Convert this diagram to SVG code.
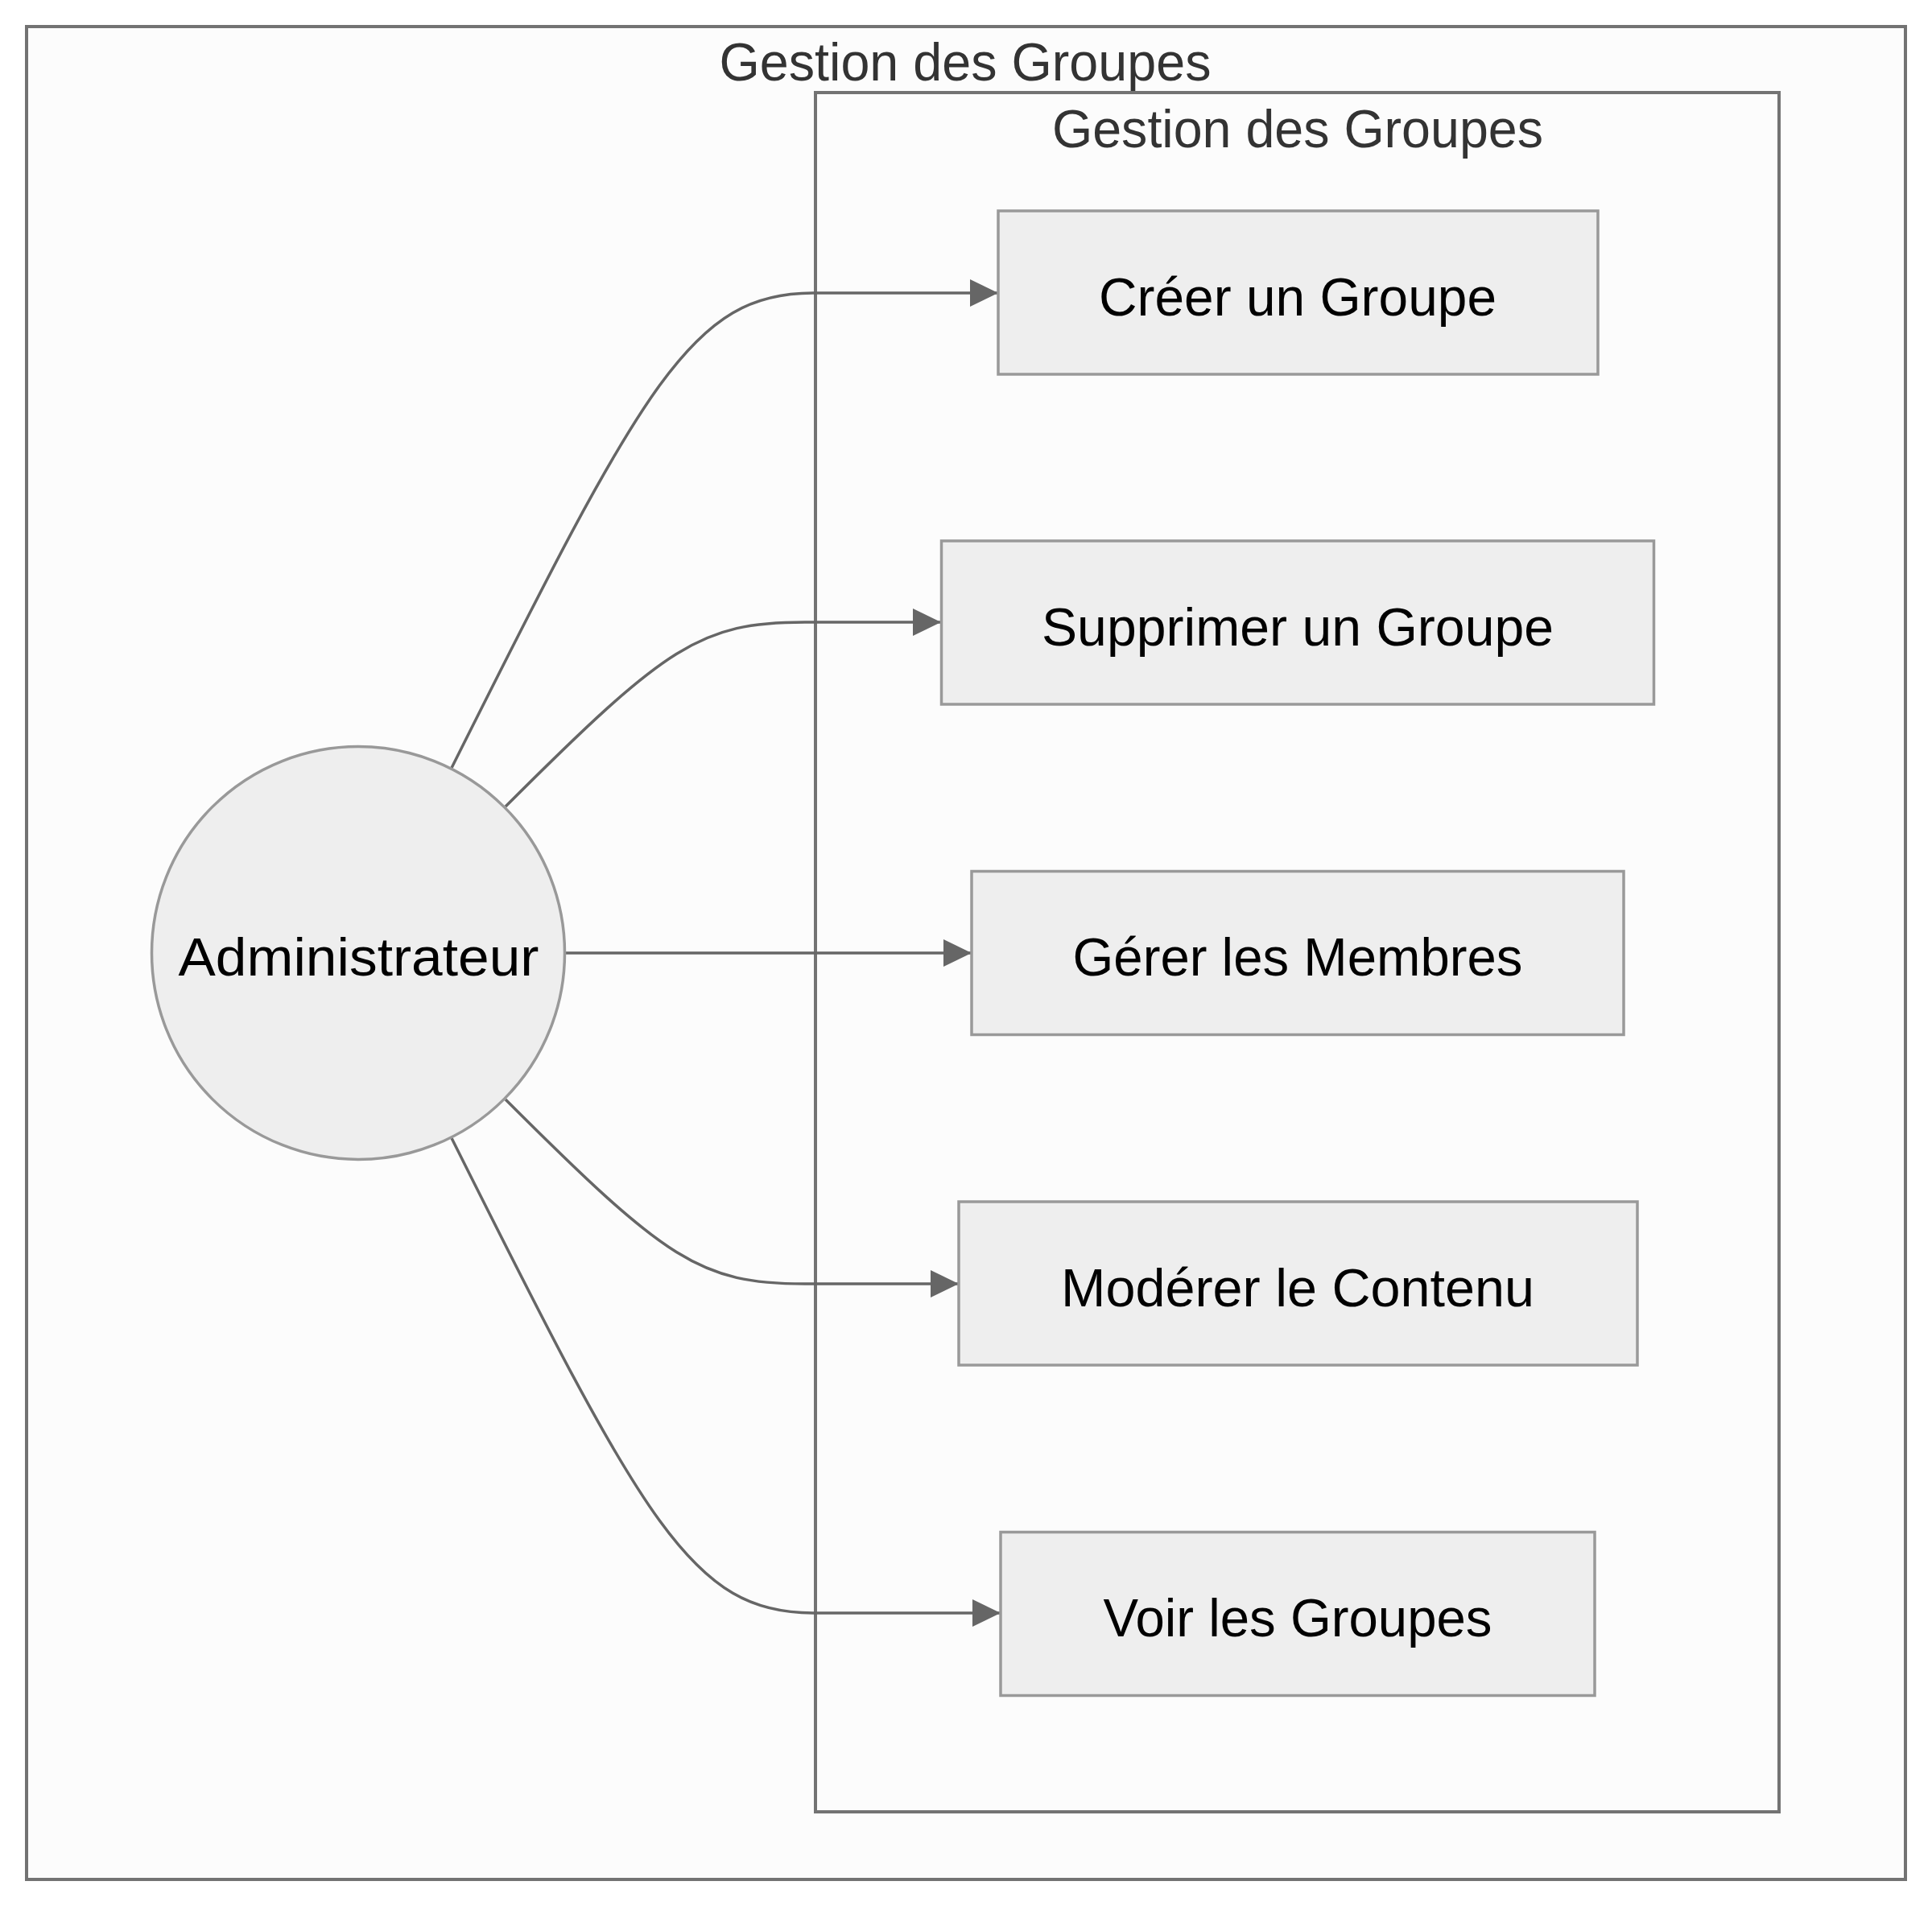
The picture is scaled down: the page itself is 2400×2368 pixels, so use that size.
<svg xmlns="http://www.w3.org/2000/svg" width="2400" height="2368" viewBox="0 0 2400 2368">
<style>
.cluster{fill:#fcfcfc;stroke:#737373;stroke-width:4}
.ctitle{font-family:'Liberation Sans',Arial,sans-serif;font-size:66px;fill:#333;text-anchor:middle}
.node{fill:#eeeeee;stroke:#999999;stroke-width:3.5}
.label{font-family:'Liberation Sans',Arial,sans-serif;font-size:66px;fill:#000;text-anchor:middle}
.edge{fill:none;stroke:#666666;stroke-width:3.5}
</style>
<defs>
<marker id="arrow" markerUnits="userSpaceOnUse" markerWidth="35" markerHeight="34" viewBox="0 0 10 10" refX="10" refY="5" orient="auto" preserveAspectRatio="none">
<path d="M0,0 L10,5 L0,10 z" fill="#666666"/>
</marker>
</defs>
<rect width="2400" height="2368" fill="#ffffff"/>
<g id="cluster-outer">
<rect class="cluster" x="33" y="33" width="2334" height="2302"/>
<text class="ctitle" x="1199" y="100" textLength="611" lengthAdjust="spacingAndGlyphs">Gestion des Groupes</text>
</g>
<g id="cluster-inner">
<rect class="cluster" x="1013" y="115" width="1197" height="2136"/>
<text class="ctitle" x="1612" y="183" textLength="610" lengthAdjust="spacingAndGlyphs">Gestion des Groupes</text>
</g>
<g id="edges">
<path class="edge" d="M561,954 C801,474 860,364 1010,364 L1240,364" marker-end="url(#arrow)"/>
<path class="edge" d="M628,1002 C828,802 870,773 1000,773 L1169,773" marker-end="url(#arrow)"/>
<path class="edge" d="M702,1184 L1207,1184" marker-end="url(#arrow)"/>
<path class="edge" d="M628,1366 C828,1566 870,1595 1000,1595 L1191,1595" marker-end="url(#arrow)"/>
<path class="edge" d="M561,1414 C801,1894 860,2004 1010,2004 L1243,2004" marker-end="url(#arrow)"/>
</g>
<g id="node-admin">
<circle class="node" cx="445" cy="1184" r="256.5"/>
<text class="label" x="445.5" y="1212" textLength="448" lengthAdjust="spacingAndGlyphs">Administrateur</text>
</g>
<g id="node-creer">
<rect class="node" x="1240" y="262" width="745" height="203"/>
<text class="label" x="1612" y="392" textLength="494" lengthAdjust="spacingAndGlyphs">Créer un Groupe</text>
</g>
<g id="node-supprimer">
<rect class="node" x="1169.5" y="672" width="885" height="203"/>
<text class="label" x="1612" y="802" textLength="636" lengthAdjust="spacingAndGlyphs">Supprimer un Groupe</text>
</g>
<g id="node-gerer">
<rect class="node" x="1207" y="1082.5" width="810" height="203"/>
<text class="label" x="1612" y="1212" textLength="559" lengthAdjust="spacingAndGlyphs">Gérer les Membres</text>
</g>
<g id="node-moderer">
<rect class="node" x="1191" y="1493" width="843" height="203"/>
<text class="label" x="1612" y="1623" textLength="588" lengthAdjust="spacingAndGlyphs">Modérer le Contenu</text>
</g>
<g id="node-voir">
<rect class="node" x="1243" y="1903.5" width="738" height="203"/>
<text class="label" x="1612" y="2033" textLength="483" lengthAdjust="spacingAndGlyphs">Voir les Groupes</text>
</g>
</svg>
